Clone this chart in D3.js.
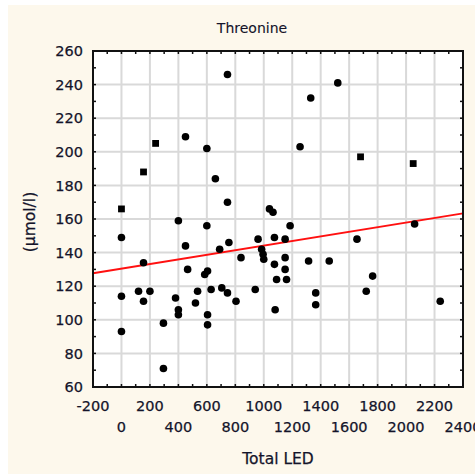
<!DOCTYPE html>
<html>
<head>
<meta charset="utf-8">
<script src="https://cdn.jsdelivr.net/npm/d3@7"></script>
<style>
  html, body { margin: 0; padding: 0; background: #fff; }
  text { font-family: "DejaVu Sans", Verdana, sans-serif; fill: #14142a; stroke: #14142a; stroke-width: 0.25px; }
</style>
</head>
<body>
<div id="chart"></div>
<script>
// Threonine vs Total LED
const totalLED = [0, 155, 240, 450, 600, 660, 745, 745, 400, 600, 0,
    1330, 1520, 1255, 1680, 2050, 1040, 1065, 1185, 2060, 1655,
    960, 1075, 1150, 450, 690, 755, 840, 155, 465, 605, 585,
    0, 120, 200, 155, 380, 400, 400, 295, 0, 295,
    535, 520, 605, 605, 630, 705, 745, 805,
    985, 995, 1000, 1150, 1315, 1460, 1075, 1150, 1160, 1090,
    1765, 940, 1720, 1365, 1365, 1080, 2240];
const threonine = [166, 188, 205, 209, 202, 184, 170, 246, 159, 156, 149,
    232, 241, 203, 197, 193, 166, 164, 156, 157, 148,
    148, 149, 148, 144, 142, 146, 137, 134, 130, 129, 127,
    114, 117, 117, 111, 113, 106, 103, 98, 93, 71,
    117, 110, 103, 97, 118, 119, 116, 111,
    142, 139, 136, 137, 135, 135, 133, 130, 124, 124,
    126, 118, 117, 116, 109, 106, 111];
// marker shape per point: "s" square, "o" dot
const markers = ["s", "s", "s", "o", "o", "o", "o", "o", "o", "o", "o",
    "o", "o", "o", "s", "s", "o", "o", "o", "o", "o",
    "o", "o", "o", "o", "o", "o", "o", "o", "o", "o", "o",
    "o", "o", "o", "o", "o", "o", "o", "o", "o", "o",
    "o", "o", "o", "o", "o", "o", "o", "o",
    "o", "o", "o", "o", "o", "o", "o", "o", "o", "o",
    "o", "o", "o", "o", "o", "o", "o"];

// fitted line y = a + b*x
const fitIntercept = 130.4;
const fitSlope = 0.01373;

const xTicks = d3.range(-200, 2401, 200);
const yTicks = d3.range(60, 261, 20);

const W = 475, H = 474;
const plot = { left: 93, right: 463, top: 51, bottom: 387 };

const svg = d3.select("#chart").append("svg")
    .attr("width", W)
    .attr("height", H);

// cream panel
svg.append("rect")
    .attr("x", 8).attr("y", 5)
    .attr("width", W - 8).attr("height", H - 5)
    .attr("fill", "#fdf8ec");

const x = d3.scaleLinear().domain([-200, 2400]).range([plot.left, plot.right]);
const y = d3.scaleLinear().domain([60, 260]).range([plot.bottom, plot.top]);

svg.append("rect")
    .attr("x", plot.left).attr("y", plot.top)
    .attr("width", plot.right - plot.left).attr("height", plot.bottom - plot.top)
    .attr("fill", "#fff");

// grid
svg.append("g").selectAll("line")
    .data(xTicks.slice(1, -1))
    .enter().append("line")
    .attr("x1", d => x(d)).attr("x2", d => x(d))
    .attr("y1", plot.top).attr("y2", plot.bottom)
    .attr("stroke", "#d9d9d9").attr("stroke-width", 2);

svg.append("g").selectAll("line")
    .data(yTicks.slice(1, -1))
    .enter().append("line")
    .attr("x1", plot.left).attr("x2", plot.right)
    .attr("y1", d => y(d)).attr("y2", d => y(d))
    .attr("stroke", "#d9d9d9").attr("stroke-width", 2);

// inner ticks on all four sides
const xMinor = d3.range(-100, 2400, 100);
const yMinor = d3.range(70, 260, 10);
const ticks = svg.append("g").attr("stroke", "#111").attr("stroke-width", 1.5);
xMinor.forEach(v => {
    ticks.append("line").attr("x1", x(v)).attr("x2", x(v)).attr("y1", plot.top).attr("y2", plot.top + 3);
    ticks.append("line").attr("x1", x(v)).attr("x2", x(v)).attr("y1", plot.bottom).attr("y2", plot.bottom - 3);
});
yMinor.forEach(v => {
    ticks.append("line").attr("y1", y(v)).attr("y2", y(v)).attr("x1", plot.left).attr("x2", plot.left + 3);
    ticks.append("line").attr("y1", y(v)).attr("y2", y(v)).attr("x1", plot.right).attr("x2", plot.right - 3);
});

// regression line
svg.append("line")
    .attr("x1", x(-200)).attr("y1", y(fitIntercept + fitSlope * -200))
    .attr("x2", x(2400)).attr("y2", y(fitIntercept + fitSlope * 2400))
    .attr("stroke", "#ff1010").attr("stroke-width", 2);

// points
const pts = totalLED.map((v, i) => ({ led: v, thr: threonine[i], m: markers[i] }));

svg.append("g").selectAll("circle")
    .data(pts.filter(d => d.m === "o"))
    .enter().append("circle")
    .attr("cx", d => x(d.led))
    .attr("cy", d => y(d.thr))
    .attr("r", 3.8)
    .attr("fill", "#000");

svg.append("g").selectAll("rect")
    .data(pts.filter(d => d.m === "s"))
    .enter().append("rect")
    .attr("x", d => x(d.led) - 3.4)
    .attr("y", d => y(d.thr) - 3.4)
    .attr("width", 6.8).attr("height", 6.8)
    .attr("fill", "#000");

// frame
svg.append("rect")
    .attr("x", plot.left).attr("y", plot.top)
    .attr("width", plot.right - plot.left).attr("height", plot.bottom - plot.top)
    .attr("fill", "none")
    .attr("stroke", "#111").attr("stroke-width", 2);

// y tick labels
svg.append("g").selectAll("text")
    .data(yTicks)
    .enter().append("text")
    .attr("x", 83)
    .attr("y", d => y(d))
    .attr("dy", "0.36em")
    .attr("text-anchor", "end")
    .style("font-size", "14.5px")
    .text(d => d);

// x tick labels, two staggered rows
svg.append("g").selectAll("text")
    .data(xTicks)
    .enter().append("text")
    .attr("x", d => x(d))
    .attr("y", (d, i) => i % 2 === 0 ? 411 : 432)
    .attr("text-anchor", "middle")
    .style("font-size", "14.5px")
    .text(d => d);

// titles
svg.append("text")
    .attr("x", 252).attr("y", 33)
    .attr("text-anchor", "middle")
    .style("font-size", "14px")
    .style("stroke-width", "0.1px")
    .text("Threonine");

svg.append("text")
    .attr("x", (plot.left + plot.right) / 2).attr("y", 464)
    .attr("text-anchor", "middle")
    .style("font-size", "15.5px")
    .text("Total LED");

svg.append("text")
    .attr("transform", `translate(35,${(plot.top + plot.bottom) / 2 + 3}) rotate(-90)`)
    .attr("text-anchor", "middle")
    .style("font-size", "15.5px")
    .text("(µmol/l)");
</script>
</body>
</html>
